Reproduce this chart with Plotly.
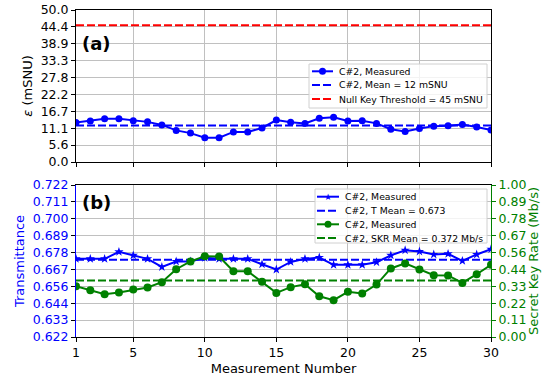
import numpy as np
import plotly.graph_objects as go

# ---------------- data ----------------
measurement = list(range(1, 31))
epsilon = [13.0, 13.5, 14.2, 14.2, 13.6, 13.2, 12.2, 10.4, 9.5, 8.0,
           8.0, 9.9, 9.9, 11.2, 13.8, 13.1, 12.7, 14.4, 14.7, 13.5,
           13.6, 12.7, 10.8, 10.0, 11.0, 11.8, 11.9, 12.3, 11.5, 10.5]
eps_mean = 12
null_key_threshold = 45
transmittance = [0.6736, 0.6736, 0.6736, 0.6782, 0.6759, 0.6736, 0.6683, 0.6719, 0.6719, 0.6743,
                 0.6736, 0.6736, 0.6736, 0.6701, 0.6666, 0.6716, 0.6736, 0.6745, 0.6697, 0.6697,
                 0.6697, 0.6714, 0.6759, 0.6793, 0.6785, 0.6765, 0.6769, 0.6723, 0.6765, 0.6800]
t_mean = 0.673
skr = [0.334, 0.308, 0.281, 0.293, 0.312, 0.326, 0.361, 0.446, 0.497, 0.532,
       0.530, 0.433, 0.433, 0.363, 0.290, 0.328, 0.347, 0.268, 0.242, 0.297,
       0.286, 0.345, 0.451, 0.484, 0.444, 0.407, 0.405, 0.356, 0.413, 0.475]
skr_mean = 0.372

x_ticks = [1, 5, 10, 15, 20, 25, 30]
eps_range = [0, 50]
eps_tickvals = list(np.linspace(0, 50, 10))
eps_ticktext = ["0.0", "5.6", "11.1", "16.7", "22.2", "27.8", "33.3", "38.9", "44.4", "50.0"]
t_range = [0.6222, 0.7222]
t_tickvals = list(np.linspace(0.6222, 0.7222, 10))
t_ticktext = ["0.622", "0.633", "0.644", "0.656", "0.667", "0.678", "0.689", "0.700", "0.711", "0.722"]
skr_range = [0, 1]
skr_tickvals = list(np.linspace(0, 1, 10))
skr_ticktext = ["0.00", "0.11", "0.22", "0.33", "0.44", "0.56", "0.67", "0.78", "0.89", "1.00"]

legend_top = ["C#2, Measured", "C#2, Mean = 12 mSNU", "Null Key Threshold = 45 mSNU"]
legend_bot = ["C#2, Measured", "C#2, T Mean = 0.673", "C#2, Measured", "C#2, SKR Mean = 0.372 Mb/s"]

# ---------------- styles ----------------
BLUE = "#0000ff"
GREEN = "#008000"
RED = "#ff0000"
GRID = "#c0c0c0"
FONT = "DejaVu Sans"
TICKF = 12.5
DASH = "8px,3px"

W, H = 552, 376
PL, PR, PT, PB = 76, 491, 10, 337


def px(x):
    return (x - PL) / (PR - PL)


def py(y):
    return (PB - y) / (PB - PT)


fig = go.Figure()

x_end = [measurement[0], measurement[-1]]

# top panel
fig.add_trace(go.Scatter(x=measurement, y=epsilon, mode="lines+markers",
                         line=dict(color=BLUE, width=2), marker=dict(size=7, color=BLUE),
                         xaxis="x", yaxis="y", showlegend=False))
fig.add_trace(go.Scatter(x=x_end, y=[eps_mean] * 2, mode="lines",
                         line=dict(color=BLUE, width=2, dash=DASH),
                         xaxis="x", yaxis="y", showlegend=False))
fig.add_trace(go.Scatter(x=x_end, y=[null_key_threshold] * 2, mode="lines",
                         line=dict(color=RED, width=2, dash=DASH),
                         xaxis="x", yaxis="y", showlegend=False))

# bottom panel
fig.add_trace(go.Scatter(x=measurement, y=transmittance, mode="lines+markers",
                         line=dict(color=BLUE, width=2), marker=dict(size=7, color=BLUE, symbol="star"),
                         xaxis="x2", yaxis="y2", showlegend=False))
fig.add_trace(go.Scatter(x=x_end, y=[t_mean] * 2, mode="lines",
                         line=dict(color=BLUE, width=2, dash=DASH),
                         xaxis="x2", yaxis="y2", showlegend=False))
fig.add_trace(go.Scatter(x=measurement, y=skr, mode="lines+markers",
                         line=dict(color=GREEN, width=2), marker=dict(size=8, color=GREEN),
                         xaxis="x2", yaxis="y3", showlegend=False))
fig.add_trace(go.Scatter(x=x_end, y=[skr_mean] * 2, mode="lines",
                         line=dict(color=GREEN, width=2, dash=DASH),
                         xaxis="x2", yaxis="y3", showlegend=False))

top_dom = [py(162), 1]
bot_dom = [0, py(185)]

common_x = dict(range=[1, 30], tickvals=x_ticks, ticks="outside", ticklen=4, tickcolor="black",
                showgrid=True, gridcolor=GRID, gridwidth=1, showline=True, linecolor="black",
                linewidth=1, mirror=True, zeroline=False, automargin=False,
                tickfont=dict(size=TICKF, color="black", family=FONT))

fig.update_layout(
    width=W, height=H,
    margin=dict(l=PL, r=W - PR, t=PT, b=H - PB, pad=0),
    paper_bgcolor="white", plot_bgcolor="white",
    font=dict(family=FONT, color="black"),
    showlegend=False,
    xaxis=dict(domain=[0, 1], anchor="y", showticklabels=False, **common_x),
    yaxis=dict(domain=top_dom, anchor="x", range=eps_range, tickvals=eps_tickvals, ticktext=eps_ticktext,
               ticks="outside", ticklen=4, tickcolor="black", showgrid=True, gridcolor=GRID,
               showline=True, linecolor="black", linewidth=1, mirror=True, zeroline=False,
               automargin=False, tickfont=dict(size=TICKF, color="black"),
               title=dict(text="<i>ε</i> (mSNU)", font=dict(size=13, color="black"), standoff=5)),
    xaxis2=dict(domain=[0, 1], anchor="y2", showticklabels=True,
                title=dict(text="Measurement Number", font=dict(size=13, color="black"), standoff=4),
                **common_x),
    yaxis2=dict(domain=bot_dom, anchor="x2", range=t_range, tickvals=t_tickvals, ticktext=t_ticktext,
                ticks="outside", ticklen=4, tickcolor="black", showgrid=True, gridcolor=GRID,
                showline=True, linecolor=BLUE, linewidth=1, mirror=False, zeroline=False,
                automargin=False, tickfont=dict(size=TICKF, color=BLUE),
                title=dict(text="Transmittance", font=dict(size=13, color=BLUE), standoff=5)),
    yaxis3=dict(overlaying="y2", side="right", anchor="x2", range=skr_range, tickvals=skr_tickvals,
                ticktext=skr_ticktext, ticks="outside", ticklen=4, tickcolor=GREEN, showgrid=False,
                showline=True, linecolor=GREEN, linewidth=1, zeroline=False, automargin=False,
                tickfont=dict(size=TICKF, color=GREEN),
                title=dict(text="Secret Key Rate (Mb/s)", font=dict(size=13, color=GREEN), standoff=3)),
)

shapes = []
annotations = []

# panel labels
annotations.append(dict(text="<b>(a)</b>", x=px(80), y=py(44), xref="paper", yref="paper",
                        xanchor="left", yanchor="middle", showarrow=False,
                        font=dict(size=18, color="black", family=FONT)))
annotations.append(dict(text="<b>(b)</b>", x=px(80), y=py(202), xref="paper", yref="paper",
                        xanchor="left", yanchor="middle", showarrow=False,
                        font=dict(size=18, color="black", family=FONT)))


def legend_box(x0, x1, y0, y1):
    shapes.append(dict(type="rect", xref="paper", yref="paper", x0=px(x0), x1=px(x1), y0=py(y1), y1=py(y0),
                       fillcolor="rgba(255,255,255,0.8)", line=dict(color="#d0d0d0", width=1), layer="above"))


def legend_entry(lx0, lx1, ty, tx, text, color, dash=None, marker=None):
    shapes.append(dict(type="line", xref="paper", yref="paper", x0=px(lx0), x1=px(lx1), y0=py(ty), y1=py(ty),
                       line=dict(color=color, width=2, dash=dash if dash else "solid"), layer="above"))
    mx = (lx0 + lx1) / 2
    if marker == "circle":
        shapes.append(dict(type="circle", xref="paper", yref="paper", xsizemode="pixel", ysizemode="pixel",
                           xanchor=px(mx), yanchor=py(ty), x0=-3.5, x1=3.5, y0=-3.5, y1=3.5,
                           fillcolor=color, line=dict(color=color, width=0), layer="above"))
    elif marker == "star":
        annotations.append(dict(text="★", x=px(mx), y=py(ty), xref="paper", yref="paper",
                                xanchor="center", yanchor="middle", showarrow=False,
                                font=dict(size=9, color=color, family=FONT)))
    annotations.append(dict(text=text, x=px(tx), y=py(ty), xref="paper", yref="paper",
                            xanchor="left", yanchor="middle", showarrow=False,
                            font=dict(size=9.3, color="black", family=FONT)))


# top legend
legend_box(309, 487, 64, 108)
legend_entry(312, 333, 71.3, 337, legend_top[0], BLUE, marker="circle")
legend_entry(312, 333, 85, 337, legend_top[1], BLUE, dash=DASH)
legend_entry(312, 333, 99, 337, legend_top[2], RED, dash=DASH)

# bottom legend
legend_box(315, 487, 189, 243)
legend_entry(317, 339, 196.7, 343, legend_bot[0], BLUE, marker="star")
legend_entry(317, 339, 210.7, 343, legend_bot[1], BLUE, dash=DASH)
legend_entry(317, 339, 224.3, 343, legend_bot[2], GREEN, marker="circle")
legend_entry(317, 339, 238, 343, legend_bot[3], GREEN, dash=DASH)

fig.update_layout(shapes=shapes, annotations=annotations)

fig.write_html("out.html", config={"displayModeBar": False},
               post_script="document.body.style.margin='0px';document.documentElement.style.margin='0px';")
